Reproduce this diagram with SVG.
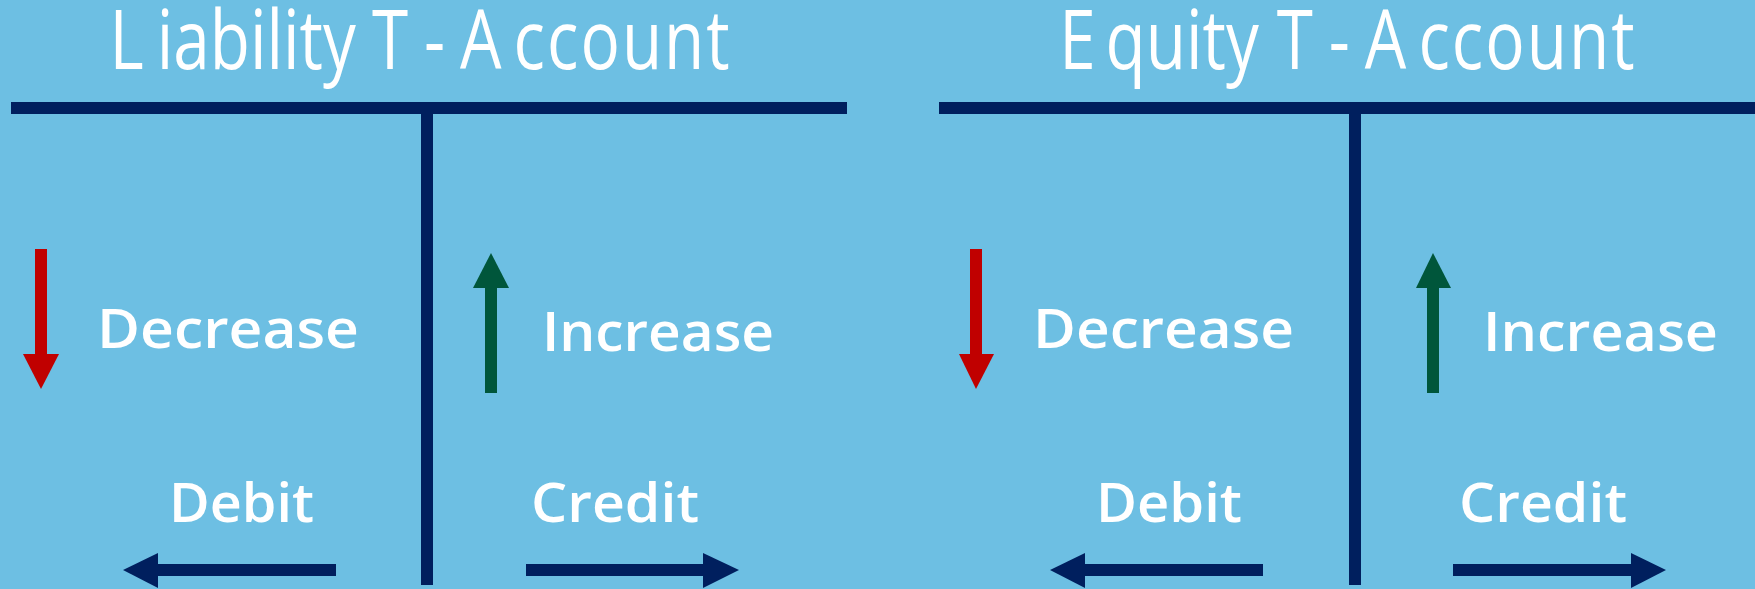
<svg xmlns="http://www.w3.org/2000/svg" width="1755" height="589" viewBox="0 0 1755 589">
<style>
.bg{fill:#6DBFE3}
.bar{fill:#001F5E}
.title{font-family:"Open Sans","Liberation Sans",sans-serif;font-size:82px;font-weight:400;fill:#FFFFFF}
.wide{letter-spacing:2.5px}
.lbl{font-family:"Open Sans","Liberation Sans",sans-serif;font-size:55px;font-weight:600;fill:#FFFFFF}
.red{fill:#C00000}
.green{fill:#00563B}
.navy{fill:#001F5E}
</style>
<rect class="bg" x="0" y="0" width="1755" height="589"/>

<g id="liability-account">
  <text class="title" transform="scale(0.8,1)" y="69"><tspan x="137">L</tspan><tspan x="196">iability </tspan><tspan x="465">T</tspan><tspan x="530">-</tspan><tspan x="575">A</tspan><tspan class="wide" x="642">ccount</tspan></text>
  <rect class="bar" x="11" y="102" width="836" height="12"/>
  <rect class="bar" x="421" y="114" width="12" height="471"/>
  <text class="lbl" x="97" y="348" textLength="262" lengthAdjust="spacingAndGlyphs">Decrease</text>
  <text class="lbl" x="542" y="351" textLength="232" lengthAdjust="spacingAndGlyphs">Increase</text>
  <text class="lbl" x="169" y="522" textLength="145" lengthAdjust="spacingAndGlyphs">Debit</text>
  <text class="lbl" x="531" y="522" textLength="168" lengthAdjust="spacingAndGlyphs">Credit</text>
</g>

<g id="equity-account">
  <text class="title" transform="scale(0.8,1)" y="69"><tspan x="1324">E</tspan><tspan x="1382">quity </tspan><tspan x="1596">T</tspan><tspan x="1661">-</tspan><tspan x="1706">A</tspan><tspan class="wide" x="1773">ccount</tspan></text>
  <rect class="bar" x="939" y="102" width="816" height="12"/>
  <rect class="bar" x="1349" y="114" width="12" height="471"/>
  <text class="lbl" x="1033" y="348" textLength="261" lengthAdjust="spacingAndGlyphs">Decrease</text>
  <text class="lbl" x="1483" y="351" textLength="235" lengthAdjust="spacingAndGlyphs">Increase</text>
  <text class="lbl" x="1096" y="522" textLength="146" lengthAdjust="spacingAndGlyphs">Debit</text>
  <text class="lbl" x="1459" y="522" textLength="168" lengthAdjust="spacingAndGlyphs">Credit</text>
</g>

<g id="connectors">
  <g id="liability-decrease-arrow" class="red">
    <rect x="35" y="249" width="12" height="106"/>
    <polygon points="23,354 59,354 41,389"/>
  </g>
  <g id="liability-increase-arrow" class="green">
    <rect x="485" y="287" width="12" height="106"/>
    <polygon points="473,288 509,288 491,253"/>
  </g>
  <g id="liability-debit-arrow" class="navy">
    <rect x="157" y="564" width="179" height="12"/>
    <polygon points="158,553 158,588 123,570"/>
  </g>
  <g id="liability-credit-arrow" class="navy">
    <rect x="526" y="564" width="178" height="12"/>
    <polygon points="703,553 703,588 739,570"/>
  </g>
  <g id="equity-decrease-arrow" class="red">
    <rect x="970" y="249" width="12" height="106"/>
    <polygon points="959,354 994,354 976,389"/>
  </g>
  <g id="equity-increase-arrow" class="green">
    <rect x="1427" y="287" width="12" height="106"/>
    <polygon points="1416,288 1451,288 1433,253"/>
  </g>
  <g id="equity-debit-arrow" class="navy">
    <rect x="1084" y="564" width="179" height="12"/>
    <polygon points="1085,553 1085,588 1050,570"/>
  </g>
  <g id="equity-credit-arrow" class="navy">
    <rect x="1453" y="564" width="179" height="12"/>
    <polygon points="1631,553 1631,588 1666,570"/>
  </g>
</g>
</svg>
